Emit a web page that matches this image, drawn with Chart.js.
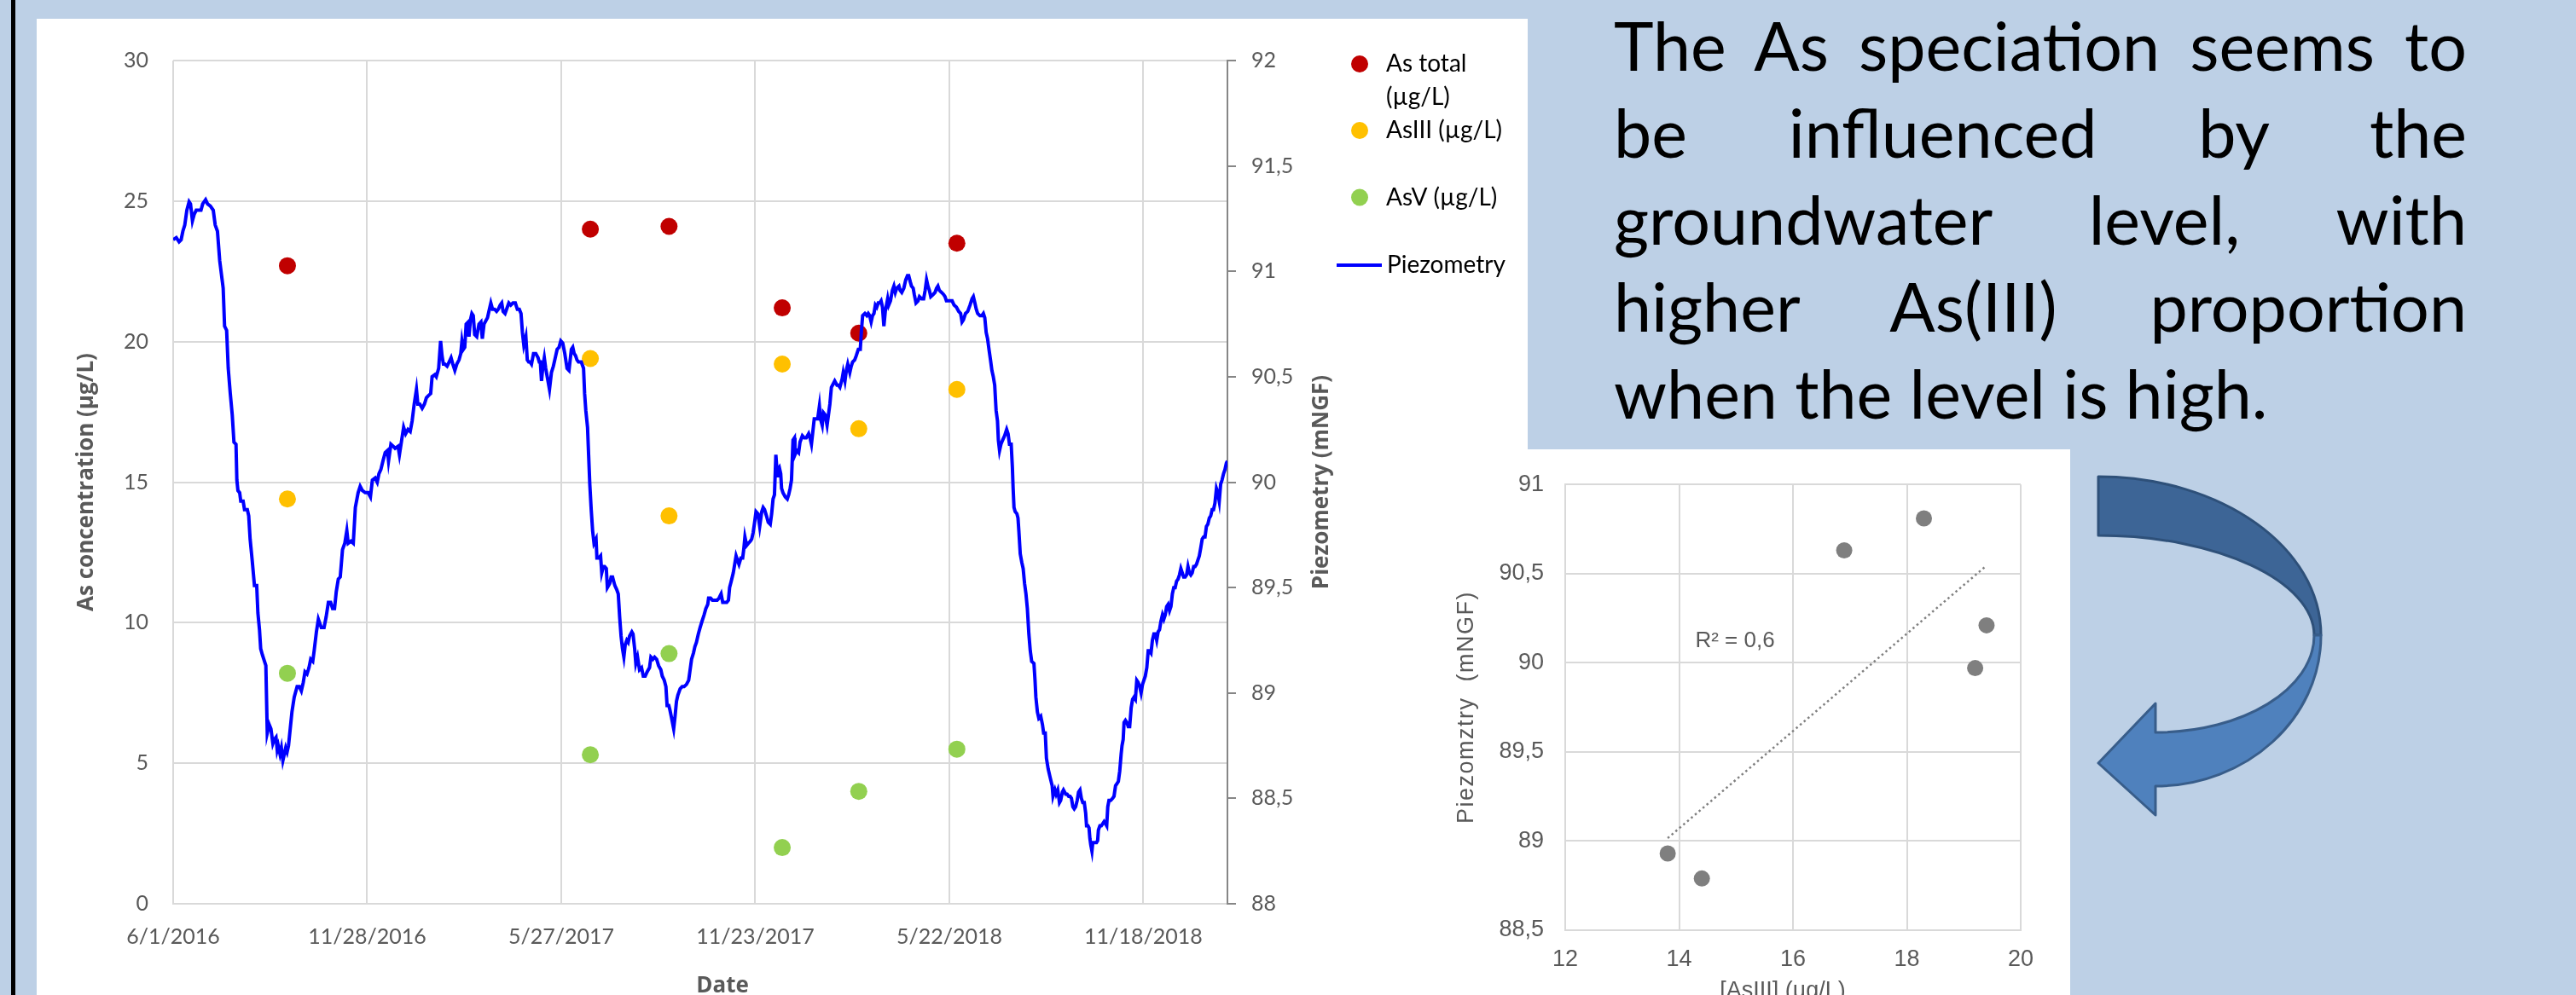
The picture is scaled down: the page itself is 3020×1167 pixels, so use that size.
<!DOCTYPE html>
<html><head><meta charset="utf-8">
<script src="https://cdn.jsdelivr.net/npm/chart.js@4.4.1/dist/chart.umd.min.js"></script>
<style>
html,body{margin:0;padding:0;}
body{width:3020px;height:1167px;background:#BDD0E6;position:relative;overflow:hidden;}
#bar{position:absolute;left:13px;top:0;width:5px;height:1167px;background:#000;}
#p1{position:absolute;left:43px;top:22px;width:1748px;height:1145px;background:#fff;}
#p2{position:absolute;left:1791px;top:527px;width:636px;height:640px;background:#fff;}
#c1{position:absolute;left:43px;top:22px;}
#c2{position:absolute;left:1690px;top:527px;}
#txt{position:absolute;left:1892px;top:2px;width:1000px;font-family:Lato;font-size:79px;line-height:102px;color:#000;}
#txt div{text-align:justify;text-align-last:justify;}
#txt div.last{text-align:left;text-align-last:left;}
#arrow{position:absolute;left:0;top:0;}
</style></head>
<body>
<div id="bar"></div>
<div id="p1"></div>
<div id="p2"></div>
<div id="txt">
<div>The As speciation seems to</div>
<div>be influenced by the</div>
<div>groundwater level, with</div>
<div>higher As(III) proportion</div>
<div class="last">when the level is high.</div>
</div>
<svg id="arrow" width="3020" height="1167" viewBox="0 0 3020 1167">
<path d="M2460,559 C2604,559 2721,642 2721,745 L2713,745 C2713,682 2600,628 2460,628 Z" fill="#3D6596" stroke="#2E5079" stroke-width="3" stroke-linejoin="round"/>
<path d="M2721,745 C2721,843 2634,922 2527,922 L2527,956 L2460,895 L2527,825 L2527,859 C2630,859 2713,808 2713,745 Z" fill="#4F81BD" stroke="#385D8A" stroke-width="3" stroke-linejoin="round"/>
</svg>
<canvas id="c1" width="1748" height="1145"></canvas>
<canvas id="c2" width="737" height="640"></canvas>
<script>
// ---- data ----
// piezometry: [days since 6/1/2016, level in mNGF]
const piezometry = [
[0,91.15],[2.9,91.16],[5.5,91.14],[7.4,91.15],[9.0,91.19],[10.8,91.22],[12.7,91.29],[14.8,91.33],[16.1,91.32],[17.9,91.24],[19.5,91.27],[21.4,91.29],[24.0,91.29],[25.8,91.29],[27.4,91.32],[30.1,91.34],[31.9,91.32],[34.5,91.31],[37.2,91.29],[39.0,91.22],[41.1,91.19],[43.2,91.05],[46.4,90.92],[47.7,90.74],[49.6,90.72],[51.1,90.54],[53.0,90.42],[54.8,90.32],[56.4,90.19],[58.3,90.18],[59.1,90.01],[60.1,89.96],[61.7,89.95],[62.7,89.91],[64.9,89.91],[66.2,89.87],[68.8,89.87],[70.1,89.84],[71.4,89.73],[73.3,89.63],[75.4,89.51],[77.5,89.51],[78.6,89.38],[80.1,89.30],[81.2,89.21],[82.8,89.18],[86.0,89.13],[87.3,88.81],[89.1,88.85],[90.7,88.83],[92.5,88.76],[93.9,88.78],[95.4,88.79],[96.5,88.73],[97.5,88.75],[99.1,88.71],[100.4,88.74],[101.8,88.68],[103.1,88.71],[104.4,88.74],[105.7,88.72],[107.0,88.75],[108.4,88.82],[110.2,88.91],[112.3,88.98],[115.0,89.03],[117.1,89.03],[118.9,89.01],[120.7,89.05],[122.3,89.10],[124.2,89.09],[126.0,89.12],[127.6,89.16],[129.5,89.15],[130.8,89.20],[132.9,89.29],[134.7,89.35],[137.4,89.31],[140.0,89.31],[141.9,89.36],[144.0,89.43],[146.1,89.43],[147.9,89.40],[149.7,89.40],[151.3,89.48],[153.2,89.54],[155.0,89.55],[157.1,89.68],[159.2,89.71],[161.1,89.77],[162.4,89.71],[165.0,89.72],[167.1,89.71],[169.0,89.88],[171.6,89.95],[173.5,89.98],[175.6,89.96],[178.2,89.95],[180.9,89.95],[183.0,89.93],[184.8,90.01],[187.4,90.02],[189.3,90.00],[190.9,90.04],[192.7,90.06],[194.6,90.10],[196.7,90.14],[198.8,90.15],[199.8,90.10],[202.0,90.18],[204.1,90.17],[205.9,90.16],[208.6,90.17],[209.9,90.13],[212.0,90.20],[213.8,90.26],[215.7,90.23],[217.8,90.25],[219.9,90.24],[221.7,90.29],[223.6,90.37],[225.7,90.44],[227.0,90.37],[228.8,90.37],[231.0,90.35],[233.1,90.37],[234.9,90.40],[236.7,90.41],[238.9,90.42],[240.2,90.50],[242.8,90.51],[244.1,90.50],[246.3,90.54],[248.1,90.67],[249.4,90.60],[250.7,90.56],
[252.0,90.56],[254.1,90.55],[256.0,90.57],[257.8,90.59],[259.4,90.56],[261.3,90.53],[263.1,90.56],[265.2,90.58],[266.8,90.61],[267.9,90.67],[269.2,90.63],[270.5,90.64],[271.8,90.75],[273.7,90.76],[274.4,90.69],[275.8,90.77],[277.1,90.80],[278.4,90.79],[279.7,90.70],[281.6,90.69],[283.7,90.75],[285.5,90.76],[286.8,90.68],[288.4,90.75],[289.5,90.76],[291.6,90.78],[292.9,90.81],[294.7,90.85],[296.3,90.82],[298.2,90.82],[300.0,90.81],[301.6,90.82],[303.4,90.84],[304.8,90.85],[306.1,90.81],[307.9,90.80],[310.0,90.83],[311.4,90.85],[313.2,90.84],[315.3,90.85],[317.4,90.85],[319.3,90.82],[321.1,90.82],[322.7,90.80],[324.0,90.71],[325.3,90.65],[327.2,90.69],[328.5,90.58],[329.8,90.57],[331.1,90.57],[332.4,90.56],[334.3,90.61],[336.4,90.61],[338.5,90.59],[339.6,90.57],[340.6,90.57],[341.7,90.48],[343.0,90.55],[344.3,90.59],[345.6,90.54],[347.0,90.50],[349.1,90.44],[350.9,90.52],[352.7,90.55],[354.9,90.60],[356.2,90.63],[358.0,90.64],[359.6,90.67],[361.4,90.66],[363.3,90.61],[365.4,90.54],[367.2,90.53],[369.4,90.63],[370.7,90.64],[372.0,90.61],[373.3,90.60],[374.6,90.58],[376.0,90.57],[378.6,90.57],[380.7,90.54],[381.7,90.42],[382.8,90.34],[384.4,90.26],[385.4,90.13],[386.5,89.99],[387.8,89.87],[389.1,89.77],[390.4,89.71],[392.3,89.73],[393.1,89.64],[394.9,89.64],[396.5,89.65],[397.6,89.57],[399.1,89.60],[400.2,89.60],[401.8,89.59],[402.8,89.50],[405.0,89.52],[406.3,89.55],[407.6,89.55],[409.7,89.51],[411.5,89.49],[412.9,89.47],[414.2,89.36],[415.5,89.27],[416.8,89.21],[418.1,89.17],[419.4,89.23],[420.8,89.25],[422.1,89.24],[423.4,89.27],[425.5,89.29],[426.6,89.28],[428.1,89.21],[429.2,89.14],[430.8,89.17],[432.6,89.11],[434.5,89.12],[436.1,89.08],[437.9,89.08],[439.7,89.10],[441.9,89.12],[443.2,89.17],[445.0,89.16],[446.6,89.17],[448.5,89.16],[450.3,89.13],[452.4,89.11],[453.7,89.08],[455.6,89.06],[457.1,89.03],[458.2,88.94],[459.8,88.94],[460.8,88.92],[462.4,88.88],[464.3,88.83],[465.6,88.89],[466.9,88.96],[468.2,88.99],[470.3,89.02],[472.2,89.03],[474.0,89.03],[476.1,89.04],[478.2,89.06],[479.3,89.10],[480.9,89.16],[482.7,89.19],[484.0,89.22],[485.4,89.24],[487.2,89.28],[488.8,89.31],[490.6,89.34],[492.5,89.37],[494.1,89.40],[495.9,89.42],
[496.7,89.45],[498.5,89.45],[500.3,89.44],[502.5,89.44],[504.6,89.44],[506.4,89.45],[508.3,89.47],[509.8,89.43],[511.7,89.43],[513.5,89.43],[515.1,89.44],[516.2,89.50],[517.7,89.53],[519.6,89.57],[520.9,89.61],[522.2,89.65],[523.5,89.63],[524.9,89.61],[526.7,89.64],[528.3,89.64],[529.3,89.68],[530.4,89.74],[532.0,89.70],[533.6,89.71],[535.4,89.72],[536.7,89.73],[538.0,89.76],[539.4,89.81],[540.7,89.86],[542.5,89.85],[544.1,89.79],[546.0,89.86],[547.3,89.88],[548.6,89.87],[550.4,89.84],[552.0,89.81],[553.9,89.80],[555.2,89.85],[556.5,89.92],[557.8,89.94],[559.1,90.13],[560.5,90.03],[561.0,90.06],[562.3,90.07],[563.6,90.04],[564.4,89.97],[565.7,89.95],[567.8,89.93],[569.7,89.92],[571.0,89.94],[572.3,89.97],[573.6,90.01],[575.0,90.20],[576.3,90.21],[576.8,90.13],[578.4,90.15],[580.2,90.14],[581.5,90.19],[583.7,90.22],[585.5,90.21],[587.3,90.21],[589.5,90.23],[590.8,90.21],[592.1,90.18],[593.4,90.24],[594.7,90.30],[596.8,90.30],[597.9,90.30],[599.5,90.36],[600.5,90.30],[602.1,90.27],[603.2,90.33],[604.7,90.32],[606.6,90.27],[607.9,90.32],[609.2,90.37],[610.6,90.45],[612.7,90.47],[613.7,90.48],[615.8,90.46],[617.1,90.46],[618.5,90.45],[620.6,90.49],[621.6,90.52],[623.2,90.48],[624.5,90.53],[625.8,90.56],[627.7,90.52],[629.0,90.55],[630.3,90.57],[632.2,90.58],[633.7,90.60],[635.6,90.63],[637.4,90.63],[638.5,90.72],[639.6,90.79],[641.7,90.80],[643.5,90.79],[644.8,90.80],[646.1,90.79],[647.5,90.76],[648.8,90.79],[650.1,90.80],[651.4,90.84],[652.7,90.83],[654.1,90.85],[655.4,90.85],[656.7,90.86],[658.0,90.83],[659.3,90.74],[660.6,90.81],[662.8,90.87],[663.8,90.84],[665.4,90.86],[667.2,90.91],[668.6,90.93],[669.9,90.90],[671.2,90.92],[673.3,90.93],[674.4,90.91],[675.9,90.90],[677.8,90.92],[679.6,90.96],[681.2,90.98],[682.3,90.98],[683.8,90.95],[684.9,90.93],[686.5,90.92],[687.5,90.89],[689.1,90.85],[691.0,90.86],[692.3,90.88],[694.4,90.87],[696.2,90.87],[697.6,90.91],[698.9,90.96],[700.2,90.93],[701.5,90.91],[702.8,90.88],[704.9,90.89],[706.8,90.90],[708.1,90.92],[709.4,90.93],[710.7,90.91],[712.8,90.90],[714.7,90.89],[716.0,90.88],[717.3,90.86],[718.6,90.86],[720.8,90.86],[722.6,90.86],[724.4,90.84],[726.6,90.83],[728.7,90.81],[730.5,90.80],[731.8,90.76],[733.1,90.77],[735.0,90.80],[737.1,90.81],[739.2,90.84],[741.1,90.87],
[742.3,90.88],[743.7,90.85],[745.0,90.82],[746.3,90.80],[748.4,90.79],[750.2,90.79],[751.6,90.80],[752.9,90.78],[754.2,90.71],[755.5,90.68],[756.8,90.63],[758.2,90.58],[759.5,90.53],[760.8,90.50],[762.1,90.46],[763.4,90.34],[764.7,90.29],[765.5,90.20],[766.6,90.15],[767.9,90.18],[769.5,90.20],[771.3,90.22],[773.2,90.25],[774.5,90.23],[775.8,90.18],[777.4,90.18],[778.5,90.07],[779.2,89.97],[780.0,89.88],[781.1,89.86],[782.7,89.85],[783.7,89.83],[784.5,89.77],[785.8,89.66],[787.2,89.62],[788.5,89.59],[789.8,89.52],[791.1,89.47],[792.4,89.40],[793.8,89.28],[795.1,89.20],[796.4,89.15],[798.5,89.14],[799.5,89.06],[800.3,88.98],[801.7,88.91],[803.0,88.88],[804.8,88.89],[806.4,88.85],[807.5,88.81],[809.0,88.81],[810.1,88.69],[811.7,88.64],[813.5,88.60],[815.4,88.56],[816.2,88.51],[818.0,88.54],[819.1,88.52],[820.6,88.54],[822.2,88.48],[823.3,88.49],[824.9,88.53],[825.9,88.54],[828.0,88.52],[829.3,88.52],[830.7,88.51],[832.0,88.51],[833.3,88.50],[834.6,88.46],[835.9,88.45],[837.2,88.46],[838.6,88.49],[839.9,88.53],[841.2,88.54],[842.5,88.50],[843.8,88.48],[845.2,88.48],[846.5,88.43],[847.3,88.37],[848.6,88.37],[849.6,88.36],[850.4,88.31],[851.2,88.28],[852.3,88.25],[853.1,88.29],[854.9,88.29],[856.5,88.29],[857.6,88.30],[858.3,88.35],[859.7,88.37],[861.0,88.37],[862.3,88.38],[863.6,88.39],[864.9,88.38],[866.0,88.37],[867.0,88.46],[868.1,88.49],[869.7,88.49],[871.5,88.50],[872.8,88.51],[874.2,88.56],[875.5,88.57],[876.8,88.58],[878.1,88.63],[879.4,88.71],[880.2,88.75],[881.3,88.78],[882.1,88.86],[883.4,88.87],[884.7,88.86],[886.0,88.84],[887.3,88.84],[888.7,88.93],[890.0,88.97],[891.3,88.98],[892.6,88.97],[893.9,89.06],[895.2,89.05],[896.6,89.03],[897.9,89.00],[899.2,89.04],[900.5,89.06],[901.8,89.08],[903.2,89.12],[904.5,89.20],[905.8,89.20],[907.1,89.19],[908.4,89.25],[909.8,89.28],[911.1,89.28],[912.4,89.25],[913.7,89.29],[915.0,89.30],[916.3,89.34],[917.7,89.37],[919.0,89.35],[920.3,89.37],[921.6,89.41],[922.9,89.42],[924.3,89.39],[925.6,89.41],[926.9,89.47],[928.2,89.50],[929.5,89.50],[930.8,89.53],[932.2,89.54],[933.5,89.56],[934.8,89.59],[936.1,89.57],[937.4,89.55],[938.8,89.55],[940.1,89.56],[941.4,89.60],[942.7,89.57],[944.0,89.56],[945.3,89.57],[946.7,89.60],[948.0,89.60],[949.3,89.61],[950.6,89.63],[951.9,89.65],[953.3,89.69],[954.6,89.73],[955.9,89.74],[957.2,89.74],[958.5,89.79],[959.8,89.80],[961.2,89.83],[962.5,89.84],[963.8,89.87],[965.1,89.87],[966.4,89.90],[967.8,89.97],[969.1,89.95],[970.4,89.91],[971.7,89.99],[973.0,90.01],[974.4,90.04],[975.7,90.06],[977.0,90.09],[978.0,90.10]
];
// sampling campaigns (days since 6/1/2016)
const sampleDays = [106, 387, 460, 565, 636, 727];
const asTotal = [22.7, 24.0, 24.1, 21.2, 20.3, 23.5];
const asIII   = [14.4, 19.4, 13.8, 19.2, 16.9, 18.3];
const asV     = [8.2, 5.3, 8.9, 2.0, 4.0, 5.5];
// scatter panel: piezometric level paired with AsIII
const scatterLevel = [88.79, 90.21, 88.93, 89.97, 90.63, 90.81];
// axes
const dateOrigin = Date.UTC(2016, 5, 1);
const xDayMax = 978, xDayStep = 180;
const concAxis = {min: 0, max: 30, step: 5};
const piezoAxis = {min: 88, max: 92, step: 0.5};
const scX = {min: 12, max: 20, step: 2};
const scY = {min: 88.5, max: 91, step: 0.5};
const legendLabels = [['As total', '(µg/L)'], ['AsIII (µg/L)'], ['AsV (µg/L)'], ['Piezometry']];

// ---- helpers ----
const comma = v => String(+v.toFixed(2)).replace('.', ',');
const fmtDate = d => { const t = new Date(dateOrigin + Math.round(d) * 86400000);
  return (t.getUTCMonth() + 1) + '/' + t.getUTCDate() + '/' + t.getUTCFullYear(); };
const GRID = '#D9D9D9', TXT = '#595959';
const tickFont = {family: 'Lato', size: 25};

const mainDecor = {
  id: 'mainDecor',
  afterDraw(chart) {
    const c = chart.ctx, a = chart.chartArea;
    c.save();
    c.fillStyle = TXT; c.font = 'bold 26px "Open Sans"';
    c.textAlign = 'center'; c.textBaseline = 'middle';
    const cy = (a.top + a.bottom) / 2;
    c.save(); c.translate(59, cy); c.rotate(-Math.PI / 2); c.fillText('As concentration (µg/L)', 0, 0); c.restore();
    c.save(); c.translate(1507, cy); c.rotate(-Math.PI / 2); c.fillText('Piezometry (mNGF)', 0, 0); c.restore();
    c.fillText('Date', 804, 1135);
    // legend
    const ds = chart.data.datasets;
    c.textAlign = 'left'; c.fillStyle = '#000'; c.font = '28px Lato';
    const rows = [[ds[1], 53], [ds[2], 131], [ds[3], 209.5]];
    rows.forEach(([d, y], i) => {
      c.beginPath(); c.fillStyle = d.backgroundColor; c.arc(1551, y, 10, 0, Math.PI * 2); c.fill();
      c.fillStyle = '#000';
      legendLabels[i].forEach((t, k) => c.fillText(t, 1582, y + k * 39));
    });
    c.strokeStyle = ds[0].borderColor; c.lineWidth = 4;
    c.beginPath(); c.moveTo(1524, 289); c.lineTo(1577, 289); c.stroke();
    c.fillText(legendLabels[3][0], 1583, 289);
    c.restore();
  }
};

new Chart(document.getElementById('c1'), {
  data: {
    datasets: [
      {type: 'line', label: 'Piezometry', data: piezometry.map(p => ({x: p[0], y: p[1]})), yAxisID: 'y2',
       borderColor: '#0000FF', borderWidth: 4, pointRadius: 0, tension: 0, fill: false},
      {type: 'scatter', label: 'As total (µg/L)', data: sampleDays.map((d, i) => ({x: d, y: asTotal[i]})), yAxisID: 'y',
       backgroundColor: '#C00000', pointRadius: 10, borderWidth: 0},
      {type: 'scatter', label: 'AsIII (µg/L)', data: sampleDays.map((d, i) => ({x: d, y: asIII[i]})), yAxisID: 'y',
       backgroundColor: '#FFC000', pointRadius: 10, borderWidth: 0},
      {type: 'scatter', label: 'AsV (µg/L)', data: sampleDays.map((d, i) => ({x: d, y: asV[i]})), yAxisID: 'y',
       backgroundColor: '#92D050', pointRadius: 10, borderWidth: 0}
    ]
  },
  options: {
    responsive: false, animation: false, devicePixelRatio: 1,
    layout: {padding: {top: 49, right: 222, left: 0, bottom: 0}},
    plugins: {legend: {display: false}, tooltip: {enabled: false}},
    scales: {
      x: {type: 'linear', position: 'bottom', min: 0, max: xDayMax,
          afterBuildTicks: s => { s.ticks = s.ticks.filter(t => t.value % xDayStep === 0); },
          afterFit: s => { s.height = 107; },
          ticks: {stepSize: xDayStep, callback: v => fmtDate(v), font: tickFont, color: TXT, padding: 24, maxRotation: 0, autoSkip: false},
          grid: {color: GRID, lineWidth: 2, drawTicks: false},
          border: {color: GRID, width: 2}},
      y: {type: 'linear', position: 'left', min: concAxis.min, max: concAxis.max,
          afterFit: s => { s.width = 160; },
          ticks: {stepSize: concAxis.step, font: tickFont, color: TXT, padding: 29},
          grid: {color: GRID, lineWidth: 2, drawTicks: false},
          border: {display: false}},
      y2: {type: 'linear', position: 'right', min: piezoAxis.min, max: piezoAxis.max,
          afterFit: s => { s.width = 130; },
          ticks: {stepSize: piezoAxis.step, callback: v => comma(v), font: tickFont, color: TXT, padding: 18},
          grid: {drawOnChartArea: false, drawTicks: true, tickLength: 10, color: '#868686', lineWidth: 2},
          border: {color: '#868686', width: 2}}
    }
  },
  plugins: [mainDecor]
});

// ---- scatter panel ----
const n = asIII.length;
const mx = asIII.reduce((s, v) => s + v, 0) / n, my = scatterLevel.reduce((s, v) => s + v, 0) / n;
let sxy = 0, sxx = 0, syy = 0;
for (let i = 0; i < n; i++) { sxy += (asIII[i] - mx) * (scatterLevel[i] - my); sxx += (asIII[i] - mx) ** 2; syy += (scatterLevel[i] - my) ** 2; }
const slope = sxy / sxx, icpt = my - slope * mx, r2 = sxy * sxy / (sxx * syy);
const xLo = Math.min(...asIII), xHi = Math.max(...asIII);

const scFont = {family: '"Liberation Sans"', size: 27};
const scDecor = {
  id: 'scDecor',
  afterDraw(chart) {
    const c = chart.ctx, a = chart.chartArea;
    c.save();
    c.fillStyle = TXT; c.textAlign = 'center'; c.textBaseline = 'middle';
    c.font = '27px "Liberation Sans"';
    c.letterSpacing = '1.5px';
    c.save(); c.translate(30, (a.top + a.bottom) / 2); c.rotate(-Math.PI / 2); c.fillText('Piezomztry  (mNGF)', 0, 0); c.restore();
    c.letterSpacing = '0px';
    c.fillText('[AsIII] (µg/L)', 400, 636);
    c.font = '26px "Liberation Sans"';
    c.fillText('R² = ' + comma(+r2.toFixed(1)), 344, 225);
    c.restore();
  }
};

new Chart(document.getElementById('c2'), {
  data: {
    datasets: [
      {type: 'line', data: [{x: xLo, y: icpt + slope * xLo}, {x: xHi, y: icpt + slope * xHi}],
       borderColor: '#808080', borderWidth: 2.5, borderDash: [2.5, 3.5], pointRadius: 0, fill: false},
      {type: 'scatter', data: asIII.map((x, i) => ({x: x, y: scatterLevel[i]})),
       backgroundColor: '#7F7F7F', pointRadius: 9.5, borderWidth: 0}
    ]
  },
  options: {
    responsive: false, animation: false, devicePixelRatio: 1,
    layout: {padding: {top: 40, right: 58, left: 0, bottom: 0}},
    plugins: {legend: {display: false}, tooltip: {enabled: false}},
    scales: {
      x: {type: 'linear', min: scX.min, max: scX.max,
          afterFit: s => { s.height = 76; },
          ticks: {stepSize: scX.step, font: scFont, color: TXT, padding: 18},
          grid: {color: GRID, lineWidth: 2, drawTicks: false},
          border: {color: GRID, width: 2}},
      y: {type: 'linear', min: scY.min, max: scY.max,
          afterFit: s => { s.width = 145; },
          ticks: {stepSize: scY.step, callback: v => comma(v), font: scFont, color: TXT, padding: 25},
          grid: {color: GRID, lineWidth: 2, drawTicks: false},
          border: {color: GRID, width: 2}}
    }
  },
  plugins: [scDecor]
});
</script>
</body></html>
